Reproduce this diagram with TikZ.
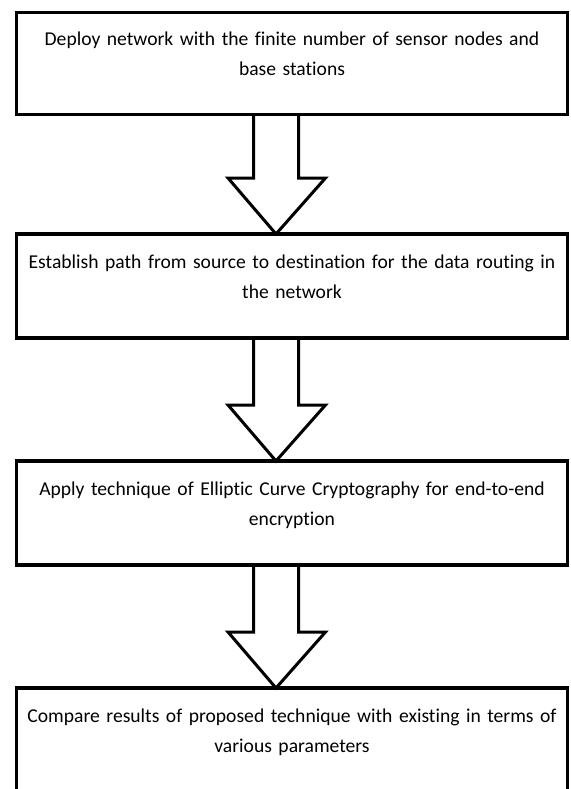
\documentclass[tikz,border=0pt]{standalone}
\usepackage{fontspec}
\setmainfont{Carlito}[Ligatures=NoCommon, WordSpace={0.8}]
\usetikzlibrary{calc}

% block arrow between the bottom of box #1 and the top of box #2
\newcommand\flowarrow[2]{%
  \draw[blockarrow] let \p1=(#1.south west), \p2=(#2.north west) in
    (\x1+237pt,\y1) -- (\x1+237pt,\y2+56pt) -- (\x1+211.5pt,\y2+56pt)
    -- (\x1+259.5pt,\y2) -- (\x1+309pt,\y2+56pt) -- (\x1+282pt,\y2+56pt)
    -- (\x1+282pt,\y1);}

\begin{document}
\begin{tikzpicture}[x=1pt,y=-1pt,
  stepbox/.style={draw, line width=3.5pt, minimum width=551pt, minimum height=102pt,
    inner sep=0pt, outer sep=0pt, anchor=north west},
  steptext/.style={font=\fontsize{19.6}{30}\selectfont, text width=560pt, align=center,
    anchor=base, inner sep=0pt},
  blockarrow/.style={draw, fill=white, line width=3pt, line join=miter}]
\useasboundingbox (0,0) rectangle (570,789);

% boxes (outlines only)
\path (16.5,12.5) node[stepbox] (b1) {};
\path (16.5,234) node[stepbox, minimum height=104pt] (b2) {};
\path (16.5,461) node[stepbox, minimum height=104pt] (b3) {};
\path (16.5,688) node[stepbox, minimum height=140pt] (b4) {};

% arrows between consecutive steps
\flowarrow{b1}{b2}
\flowarrow{b2}{b3}
\flowarrow{b3}{b4}

% redraw outlines above the arrow fills
\foreach \b in {b1,b2,b3,b4}{\draw[line width=3.5pt] (\b.north west) rectangle (\b.south east);}

% step texts
\node[steptext] (t1) at ($(b1.north)+(0,33)$) {Deploy network with the finite number of sensor nodes and\\ base stations};
\node[steptext] (t2) at ($(b2.north)+(0,34)$) {Establish path from source to destination for the data routing in\\ the network};
\node[steptext] (t3) at ($(b3.north)+(0,34)$) {Apply technique of Elliptic Curve Cryptography for end-to-end\\ encryption};
\node[steptext] (t4) at ($(b4.north)+(0,34)$) {Compare results of proposed technique with existing in terms of\\ various parameters};
\end{tikzpicture}
\end{document}
